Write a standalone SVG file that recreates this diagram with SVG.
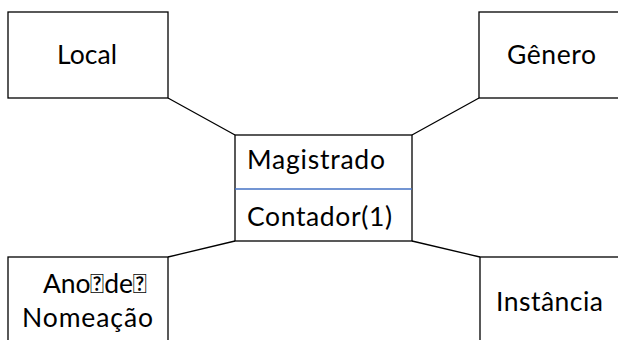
<svg xmlns="http://www.w3.org/2000/svg" width="618" height="340" viewBox="0 0 618 340">
<style>
.box{fill:#fff;stroke:#000;stroke-width:1.3}
.t{font-family:Lato,"Liberation Sans",sans-serif;font-size:26.5px;fill:#000}
.c{stroke:#000;stroke-width:1.3;fill:none}
</style>
<rect width="618" height="340" fill="#fff"/>
<g id="connectors">
<line class="c" x1="168" y1="98" x2="235" y2="135"/>
<line class="c" x1="479" y1="98" x2="412" y2="135"/>
<line class="c" x1="235" y1="241" x2="168" y2="257"/>
<line class="c" x1="412" y1="241" x2="480" y2="257"/>
</g>
<g id="local">
<rect class="box" x="8" y="12" width="160" height="86"/>
<text class="t" x="57" y="64" textLength="60" lengthAdjust="spacing">Local</text>
</g>
<g id="genero">
<rect class="box" x="479" y="12" width="150" height="86"/>
<text class="t" x="507" y="64" textLength="89" lengthAdjust="spacing">Gênero</text>
</g>
<g id="magistrado">
<rect class="box" x="235" y="135" width="177" height="106"/>
<line x1="235" y1="189" x2="412" y2="189" stroke="#4472C4" stroke-width="1.3"/>
<text class="t" x="247" y="169" textLength="138" lengthAdjust="spacing">Magistrado</text>
<text class="t" x="247" y="226" textLength="145" lengthAdjust="spacing">Contador(1)</text>
</g>
<g id="ano">
<rect class="box" x="8" y="257" width="160" height="100"/>
<text class="t" x="43" y="293" textLength="104" lengthAdjust="spacing">Ano&#xF020;de&#xF020;</text>
<text class="t" x="22" y="327" textLength="131" lengthAdjust="spacing">Nomeação</text>
</g>
<g id="instancia">
<rect class="box" x="480" y="257" width="150" height="100"/>
<text class="t" x="496" y="311" textLength="107" lengthAdjust="spacing">Instância</text>
</g>
</svg>
